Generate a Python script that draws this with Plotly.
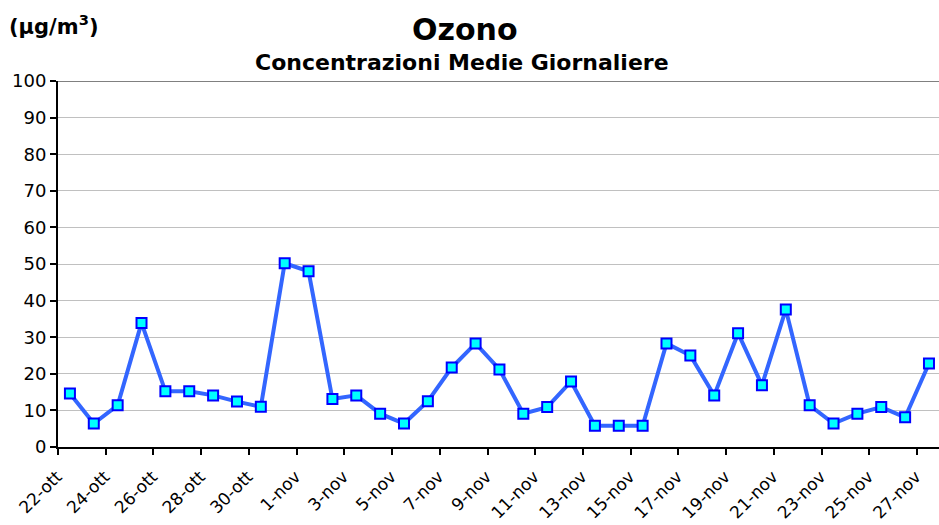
import plotly.graph_objects as go

# Data
dates = ["22-ott", "23-ott", "24-ott", "25-ott", "26-ott", "27-ott", "28-ott", "29-ott", "30-ott", "31-ott",
         "1-nov", "2-nov", "3-nov", "4-nov", "5-nov", "6-nov", "7-nov", "8-nov", "9-nov", "10-nov",
         "11-nov", "12-nov", "13-nov", "14-nov", "15-nov", "16-nov", "17-nov", "18-nov", "19-nov", "20-nov",
         "21-nov", "22-nov", "23-nov", "24-nov", "25-nov", "26-nov", "27-nov"]
ozono = [14.6, 6.4, 11.4, 33.9, 15.2, 15.2, 14.1, 12.4, 11.0, 50.2,
         48.0, 13.1, 14.1, 9.1, 6.4, 12.5, 21.7, 28.3, 21.2, 9.1,
         10.9, 17.9, 5.8, 5.8, 5.8, 28.3, 25.0, 14.1, 31.1, 16.9,
         37.6, 11.4, 6.4, 9.1, 10.9, 8.1, 22.8]
y_ticks = [0, 10, 20, 30, 40, 50, 60, 70, 80, 90, 100]

idx = list(range(len(dates)))
label_idx = idx[::2]
label_text = [dates[i] for i in label_idx]

FONT = "DejaVu Sans, Verdana, sans-serif"
L, T, B = 58, 81, 78
PH = 525 - T - B
PW = 939 - L

fig = go.Figure()
fig.add_trace(go.Scatter(
    x=idx, y=ozono, mode="lines+markers",
    line=dict(color="#3366FF", width=4),
    marker=dict(symbol="square", size=10, color="#00FFFF",
                line=dict(color="#0000FF", width=2)),
    showlegend=False, hoverinfo="skip",
))

fig.update_layout(
    width=939, height=525,
    margin=dict(l=L, r=0, t=T, b=B, autoexpand=False),
    paper_bgcolor="white", plot_bgcolor="white",
    font=dict(family=FONT, color="black"),
    showlegend=False,
)

fig.update_xaxes(
    range=[-0.5, 36.42], automargin=False,
    tickmode="array", tickvals=label_idx, ticktext=label_text,
    tickangle=-45, tickfont=dict(size=17, family=FONT, color="black"),
    ticklabelshift=-13, ticklabelstandoff=11,
    ticks="outside", ticklen=0,
    minor=dict(tickmode="linear", tick0=-0.5, dtick=2, ticks="outside",
               ticklen=6, tickwidth=2, tickcolor="black", showgrid=False),
    showgrid=False, zeroline=False,
    showline=True, linecolor="black", linewidth=2,
)
fig.update_yaxes(
    range=[0, 100], automargin=False, tickmode="array", tickvals=y_ticks,
    tickfont=dict(size=18, family=FONT, color="black"),
    ticks="outside", ticklen=6, tickwidth=2, tickcolor="black",
    showgrid=True, gridcolor="#C0C0C0", gridwidth=1, zeroline=False,
    showline=True, linecolor="black", linewidth=2,
)

# darker top border line at 100
fig.add_shape(type="line", xref="paper", yref="y", x0=0, x1=1, y0=100, y1=100,
              line=dict(color="#808080", width=2))

fig.add_annotation(text="<b>Ozono</b>", xref="paper", yref="paper",
                   x=(465 - L) / PW, xanchor="center",
                   y=1 + (T - 29) / PH, yanchor="middle",
                   showarrow=False, font=dict(size=30, family=FONT, color="black"))
fig.add_annotation(text="<b>Concentrazioni Medie Giornaliere</b>", xref="paper", yref="paper",
                   x=(462 - L) / PW, xanchor="center",
                   y=1 + (T - 63) / PH, yanchor="middle",
                   showarrow=False, font=dict(size=22, family=FONT, color="black"))
fig.add_annotation(text="<b>(μg/m<sup>3</sup>)</b>", xref="paper", yref="paper",
                   x=(8 - L) / PW, xanchor="left",
                   y=1 + (T - 25) / PH, yanchor="middle", borderpad=0,
                   showarrow=False, font=dict(size=21, family=FONT, color="black"))

fig.write_html("out.html", config={"displayModeBar": False},
               post_script="document.body.style.margin='0';")
